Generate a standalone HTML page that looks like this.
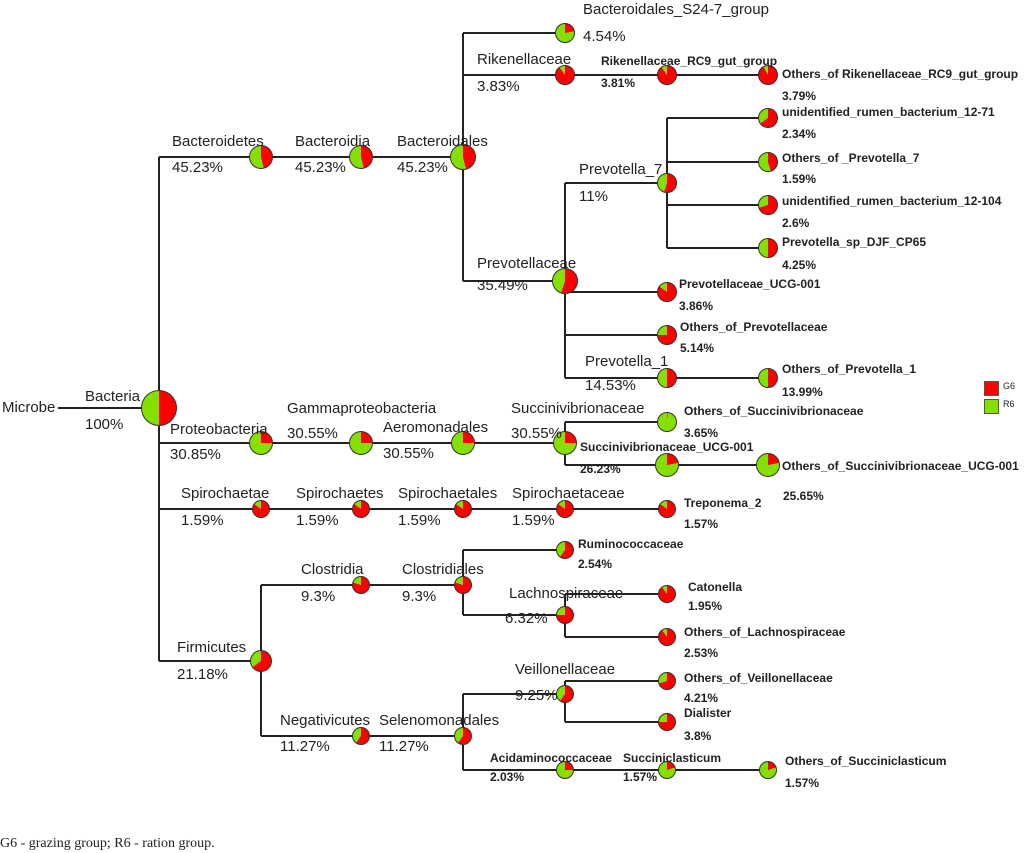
<!DOCTYPE html>
<html><head><meta charset="utf-8"><style>
body{margin:0;background:#fff;}
#c{position:relative;width:1024px;height:853px;overflow:hidden;font-family:"Liberation Sans",Arial,sans-serif;}
svg{position:absolute;left:0;top:0;}
.p{position:absolute;border-radius:50%;border:1px solid #333;box-sizing:border-box;}
.t{position:absolute;font-size:15px;color:#222;white-space:nowrap;line-height:1;}
.b{position:absolute;font-size:12px;font-weight:bold;color:#222;white-space:nowrap;line-height:1;}
</style></head><body><div id="c">
<svg width="1024" height="853" stroke="#222" stroke-width="2" fill="none">
<path d="M58 408H159M159 157V661M159 157H463M463 33V281M463 33H565M463 75H768M463 281H565M565 183V378M565 183H667M667 118V248M667 118H768M667 162H768M667 205H768M667 248H768M565 292H667M565 335H667M565 378H768"/>
<path d="M159 443H565M565 422V465M565 422H667M565 465H768M159 509H667M159 661H261M261 585V736M261 585H463M463 550V615M463 550H565M463 615H565M565 594V637M565 594H667M565 637H667M261 736H463M463 694V770M463 694H565M565 681V722M565 681H667M565 722H667M463 770H768"/>
</svg>
<div class="p" style="left:141px;top:390px;width:36px;height:36px;background:conic-gradient(#f00 0 50%,#84e000 50%)"></div>
<div class="p" style="left:249px;top:145px;width:24px;height:24px;background:conic-gradient(#f00 0 46%,#84e000 46%)"></div>
<div class="p" style="left:349px;top:145px;width:24px;height:24px;background:conic-gradient(#f00 0 46%,#84e000 46%)"></div>
<div class="p" style="left:450px;top:144px;width:26px;height:26px;background:conic-gradient(#f00 0 46%,#84e000 46%)"></div>
<div class="p" style="left:555px;top:23px;width:20px;height:20px;background:conic-gradient(#f00 0 22%,#84e000 22%)"></div>
<div class="p" style="left:555px;top:65px;width:20px;height:20px;background:conic-gradient(#f00 0 90%,#84e000 90%)"></div>
<div class="p" style="left:657px;top:65px;width:20px;height:20px;background:conic-gradient(#f00 0 90%,#84e000 90%)"></div>
<div class="p" style="left:758px;top:65px;width:20px;height:20px;background:conic-gradient(#f00 0 92%,#84e000 92%)"></div>
<div class="p" style="left:552px;top:268px;width:26px;height:26px;background:conic-gradient(#f00 0 55%,#84e000 55%)"></div>
<div class="p" style="left:657px;top:173px;width:20px;height:20px;background:conic-gradient(#f00 0 55%,#84e000 55%)"></div>
<div class="p" style="left:758px;top:108px;width:20px;height:20px;background:conic-gradient(#f00 0 65%,#84e000 65%)"></div>
<div class="p" style="left:758px;top:152px;width:20px;height:20px;background:conic-gradient(#f00 0 45%,#84e000 45%)"></div>
<div class="p" style="left:758px;top:195px;width:20px;height:20px;background:conic-gradient(#f00 0 70%,#84e000 70%)"></div>
<div class="p" style="left:758px;top:238px;width:20px;height:20px;background:conic-gradient(#f00 0 50%,#84e000 50%)"></div>
<div class="p" style="left:657px;top:282px;width:20px;height:20px;background:conic-gradient(#f00 0 85%,#84e000 85%)"></div>
<div class="p" style="left:657px;top:325px;width:20px;height:20px;background:conic-gradient(#f00 0 75%,#84e000 75%)"></div>
<div class="p" style="left:657px;top:368px;width:20px;height:20px;background:conic-gradient(#f00 0 50%,#84e000 50%)"></div>
<div class="p" style="left:758px;top:368px;width:20px;height:20px;background:conic-gradient(#f00 0 50%,#84e000 50%)"></div>
<div class="p" style="left:249px;top:431px;width:24px;height:24px;background:conic-gradient(#f00 0 25%,#84e000 25%)"></div>
<div class="p" style="left:349px;top:431px;width:24px;height:24px;background:conic-gradient(#f00 0 25%,#84e000 25%)"></div>
<div class="p" style="left:451px;top:431px;width:24px;height:24px;background:conic-gradient(#f00 0 25%,#84e000 25%)"></div>
<div class="p" style="left:553px;top:431px;width:24px;height:24px;background:conic-gradient(#f00 0 25%,#84e000 25%)"></div>
<div class="p" style="left:657px;top:412px;width:20px;height:20px;background:conic-gradient(#f00 0 1%,#84e000 1%)"></div>
<div class="p" style="left:655px;top:453px;width:24px;height:24px;background:conic-gradient(#f00 0 22%,#84e000 22%)"></div>
<div class="p" style="left:756px;top:453px;width:24px;height:24px;background:conic-gradient(#f00 0 22%,#84e000 22%)"></div>
<div class="p" style="left:252px;top:500px;width:18px;height:18px;background:conic-gradient(#f00 0 85%,#84e000 85%)"></div>
<div class="p" style="left:352px;top:500px;width:18px;height:18px;background:conic-gradient(#f00 0 85%,#84e000 85%)"></div>
<div class="p" style="left:454px;top:500px;width:18px;height:18px;background:conic-gradient(#f00 0 85%,#84e000 85%)"></div>
<div class="p" style="left:556px;top:500px;width:18px;height:18px;background:conic-gradient(#f00 0 85%,#84e000 85%)"></div>
<div class="p" style="left:658px;top:500px;width:18px;height:18px;background:conic-gradient(#f00 0 85%,#84e000 85%)"></div>
<div class="p" style="left:250px;top:650px;width:22px;height:22px;background:conic-gradient(#f00 0 65%,#84e000 65%)"></div>
<div class="p" style="left:352px;top:576px;width:18px;height:18px;background:conic-gradient(#f00 0 80%,#84e000 80%)"></div>
<div class="p" style="left:454px;top:576px;width:18px;height:18px;background:conic-gradient(#f00 0 80%,#84e000 80%)"></div>
<div class="p" style="left:556px;top:541px;width:18px;height:18px;background:conic-gradient(#f00 0 60%,#84e000 60%)"></div>
<div class="p" style="left:556px;top:606px;width:18px;height:18px;background:conic-gradient(#f00 0 75%,#84e000 75%)"></div>
<div class="p" style="left:658px;top:585px;width:18px;height:18px;background:conic-gradient(#f00 0 90%,#84e000 90%)"></div>
<div class="p" style="left:658px;top:628px;width:18px;height:18px;background:conic-gradient(#f00 0 90%,#84e000 90%)"></div>
<div class="p" style="left:352px;top:727px;width:18px;height:18px;background:conic-gradient(#f00 0 60%,#84e000 60%)"></div>
<div class="p" style="left:454px;top:727px;width:18px;height:18px;background:conic-gradient(#f00 0 60%,#84e000 60%)"></div>
<div class="p" style="left:556px;top:685px;width:18px;height:18px;background:conic-gradient(#f00 0 60%,#84e000 60%)"></div>
<div class="p" style="left:658px;top:672px;width:18px;height:18px;background:conic-gradient(#f00 0 70%,#84e000 70%)"></div>
<div class="p" style="left:658px;top:713px;width:18px;height:18px;background:conic-gradient(#f00 0 75%,#84e000 75%)"></div>
<div class="p" style="left:556px;top:761px;width:18px;height:18px;background:conic-gradient(#f00 0 25%,#84e000 25%)"></div>
<div class="p" style="left:658px;top:761px;width:18px;height:18px;background:conic-gradient(#f00 0 20%,#84e000 20%)"></div>
<div class="p" style="left:759px;top:761px;width:18px;height:18px;background:conic-gradient(#f00 0 20%,#84e000 20%)"></div>
<div style="position:absolute;left:984px;top:381px;width:13px;height:13px;background:#f00;border:1px solid #555"></div>
<div style="position:absolute;left:984px;top:399px;width:13px;height:13px;background:#84e000;border:1px solid #555"></div>
<div class="t" style="left:1003px;top:382px;font-size:9px">G6</div>
<div class="t" style="left:1003px;top:400px;font-size:9px">R6</div>

<div class="t" style="left:2px;top:400px">Microbe</div>
<div class="t" style="left:85px;top:389px">Bacteria</div>
<div class="t" style="left:85px;top:417px">100%</div>
<div class="t" style="left:172px;top:134px">Bacteroidetes</div><div class="t" style="left:172px;top:160px">45.23%</div>
<div class="t" style="left:295px;top:134px">Bacteroidia</div><div class="t" style="left:295px;top:160px">45.23%</div>
<div class="t" style="left:397px;top:134px">Bacteroidales</div><div class="t" style="left:397px;top:160px">45.23%</div>
<div class="t" style="left:583px;top:2px">Bacteroidales_S24-7_group</div><div class="t" style="left:583px;top:29px">4.54%</div>
<div class="t" style="left:477px;top:52px">Rikenellaceae</div><div class="t" style="left:477px;top:79px">3.83%</div>
<div class="b" style="left:601px;top:55px">Rikenellaceae_RC9_gut_group</div><div class="b" style="left:601px;top:77px">3.81%</div>
<div class="b" style="left:782px;top:68px">Others_of Rikenellaceae_RC9_gut_group</div><div class="b" style="left:782px;top:90px">3.79%</div>
<div class="b" style="left:782px;top:106px">unidentified_rumen_bacterium_12-71</div><div class="b" style="left:782px;top:128px">2.34%</div>
<div class="b" style="left:782px;top:152px">Others_of _Prevotella_7</div><div class="b" style="left:782px;top:173px">1.59%</div>
<div class="b" style="left:782px;top:195px">unidentified_rumen_bacterium_12-104</div><div class="b" style="left:782px;top:217px">2.6%</div>
<div class="b" style="left:782px;top:236px">Prevotella_sp_DJF_CP65</div><div class="b" style="left:782px;top:259px">4.25%</div>
<div class="t" style="left:579px;top:162px">Prevotella_7</div><div class="t" style="left:579px;top:189px">11%</div>
<div class="t" style="left:477px;top:256px">Prevotellaceae</div><div class="t" style="left:477px;top:278px">35.49%</div>
<div class="b" style="left:679px;top:278px">Prevotellaceae_UCG-001</div><div class="b" style="left:679px;top:300px">3.86%</div>
<div class="b" style="left:680px;top:321px">Others_of_Prevotellaceae</div><div class="b" style="left:680px;top:342px">5.14%</div>
<div class="t" style="left:585px;top:354px">Prevotella_1</div><div class="t" style="left:585px;top:378px">14.53%</div>
<div class="b" style="left:782px;top:363px">Others_of_Prevotella_1</div><div class="b" style="left:782px;top:386px">13.99%</div>
<div class="t" style="left:170px;top:422px">Proteobacteria</div><div class="t" style="left:170px;top:447px">30.85%</div>
<div class="t" style="left:287px;top:401px">Gammaproteobacteria</div><div class="t" style="left:287px;top:426px">30.55%</div>
<div class="t" style="left:383px;top:420px">Aeromonadales</div><div class="t" style="left:383px;top:446px">30.55%</div>
<div class="t" style="left:511px;top:401px">Succinivibrionaceae</div><div class="t" style="left:511px;top:426px">30.55%</div>
<div class="b" style="left:684px;top:405px">Others_of_Succinivibrionaceae</div><div class="b" style="left:684px;top:427px">3.65%</div>
<div class="b" style="left:580px;top:441px">Succinivibrionaceae_UCG-001</div><div class="b" style="left:580px;top:463px">26.23%</div>
<div class="b" style="left:782px;top:460px">Others_of_Succinivibrionaceae_UCG-001</div><div class="b" style="left:783px;top:490px">25.65%</div>
<div class="t" style="left:181px;top:486px">Spirochaetae</div><div class="t" style="left:181px;top:513px">1.59%</div>
<div class="t" style="left:296px;top:486px">Spirochaetes</div><div class="t" style="left:296px;top:513px">1.59%</div>
<div class="t" style="left:398px;top:486px">Spirochaetales</div><div class="t" style="left:398px;top:513px">1.59%</div>
<div class="t" style="left:512px;top:486px">Spirochaetaceae</div><div class="t" style="left:512px;top:513px">1.59%</div>
<div class="b" style="left:684px;top:497px">Treponema_2</div><div class="b" style="left:684px;top:518px">1.57%</div>
<div class="b" style="left:578px;top:538px">Ruminococcaceae</div><div class="b" style="left:578px;top:558px">2.54%</div>
<div class="t" style="left:301px;top:562px">Clostridia</div><div class="t" style="left:301px;top:589px">9.3%</div>
<div class="t" style="left:402px;top:562px">Clostridiales</div><div class="t" style="left:402px;top:589px">9.3%</div>
<div class="t" style="left:509px;top:586px">Lachnospiraceae</div><div class="t" style="left:505px;top:611px">6.32%</div>
<div class="b" style="left:688px;top:581px">Catonella</div><div class="b" style="left:688px;top:600px">1.95%</div>
<div class="b" style="left:684px;top:626px">Others_of_Lachnospiraceae</div><div class="b" style="left:684px;top:647px">2.53%</div>
<div class="t" style="left:177px;top:640px">Firmicutes</div><div class="t" style="left:177px;top:667px">21.18%</div>
<div class="t" style="left:515px;top:662px">Veillonellaceae</div><div class="t" style="left:515px;top:688px">9.25%</div>
<div class="b" style="left:684px;top:672px">Others_of_Veillonellaceae</div><div class="b" style="left:684px;top:692px">4.21%</div>
<div class="b" style="left:684px;top:707px">Dialister</div><div class="b" style="left:684px;top:730px">3.8%</div>
<div class="t" style="left:280px;top:713px">Negativicutes</div><div class="t" style="left:280px;top:739px">11.27%</div>
<div class="t" style="left:379px;top:713px">Selenomonadales</div><div class="t" style="left:379px;top:739px">11.27%</div>
<div class="b" style="left:490px;top:752px">Acidaminococcaceae</div><div class="b" style="left:490px;top:771px">2.03%</div>
<div class="b" style="left:623px;top:752px">Succiniclasticum</div><div class="b" style="left:623px;top:771px">1.57%</div>
<div class="b" style="left:785px;top:755px">Others_of_Succiniclasticum</div><div class="b" style="left:785px;top:777px">1.57%</div>
<div style="position:absolute;left:0;top:836px;font-family:'Liberation Serif',serif;font-size:14px;color:#222">G6 - grazing group; R6 - ration group.</div>
</div></body></html>
